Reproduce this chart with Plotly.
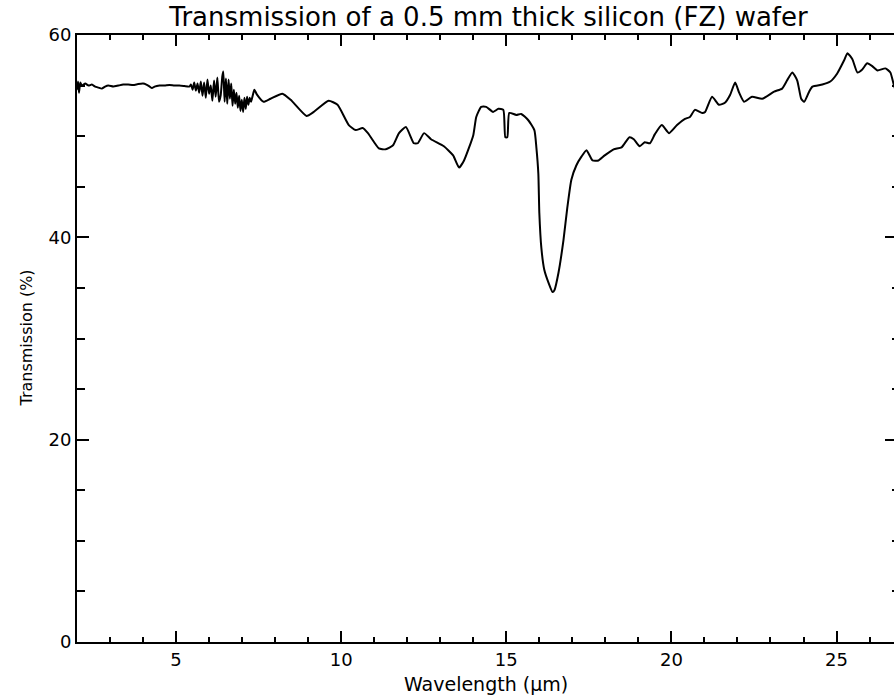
import plotly.graph_objects as go

# Wavelength (micrometres)
wavelength = [
    2.00, 2.03, 2.06, 2.10, 2.15, 2.25, 2.35, 2.45, 2.55, 2.65, 2.75, 2.85, 2.95,
    3.10, 3.25, 3.40, 3.55, 3.70, 3.85, 4.00, 4.10, 4.20, 4.27, 4.35, 4.50, 4.65,
    4.80, 4.95, 5.10, 5.25, 5.40,
    5.45, 5.50, 5.55, 5.60, 5.65, 5.70, 5.75, 5.80, 5.85, 5.90, 5.95, 6.00, 6.05,
    6.10, 6.15, 6.20, 6.25, 6.30, 6.35, 6.40, 6.43, 6.47, 6.51, 6.55, 6.59, 6.63,
    6.67, 6.71, 6.75, 6.79, 6.83, 6.87, 6.91, 6.95, 6.99, 7.03, 7.07, 7.11, 7.15,
    7.19, 7.23, 7.27, 7.32, 7.37, 7.45, 7.65, 7.86, 8.22, 8.47, 8.95, 9.17, 9.62,
    9.89, 10.23, 10.44, 10.65, 10.81, 11.14, 11.35, 11.57, 11.75, 11.96, 12.20,
    12.32, 12.51, 12.72, 13.11, 13.39, 13.57, 13.72, 14.00, 14.09, 14.24, 14.39,
    14.60, 14.76, 14.91, 14.97, 15.03, 15.09, 15.30, 15.45, 15.66, 15.85, 15.91,
    15.97, 16.00, 16.06, 16.15, 16.28, 16.40, 16.46, 16.58, 16.73, 16.85, 16.97,
    17.12, 17.28, 17.43, 17.61, 17.79, 17.98, 18.25, 18.49, 18.73, 18.86, 19.04,
    19.19, 19.35, 19.50, 19.71, 19.93, 20.17, 20.41, 20.56, 20.71, 20.93, 21.02,
    21.23, 21.44, 21.62, 21.78, 21.93, 22.05, 22.20, 22.44, 22.75, 23.11, 23.35,
    23.50, 23.66, 23.81, 23.93, 24.02, 24.17, 24.27, 24.57, 24.81, 25.02, 25.23,
    25.33, 25.48, 25.63, 25.78, 25.93, 26.09, 26.24, 26.48, 26.63, 26.74, 26.85,
]

# Transmission (%)
transmission = [
    54.6, 55.4, 54.3, 55.3, 55.0, 55.2, 55.0, 55.1, 54.9, 54.8, 54.7, 54.9, 55.0,
    54.9, 55.0, 55.1, 55.1, 55.05, 55.15, 55.2, 55.1, 54.9, 54.75, 54.9, 55.0, 55.0,
    55.05, 55.0, 55.0, 54.95, 54.9,
    55.1, 54.6, 55.3, 54.5, 55.2, 54.3, 55.4, 54.0, 55.3, 53.8, 55.6, 54.2, 55.0,
    53.5, 55.5, 53.9, 55.8, 53.4, 54.0, 55.9, 56.4, 53.4, 55.7, 53.2, 55.6, 53.7,
    55.2, 53.0, 54.6, 53.2, 54.3, 52.8, 54.0, 52.5, 53.6, 52.4, 53.8, 52.7, 53.9,
    53.1, 53.8, 53.4, 54.0, 54.6, 54.1, 53.4, 53.7, 54.2, 53.6, 52.0, 52.4, 53.5,
    53.1, 51.1, 50.6, 50.8, 50.3, 48.8, 48.7, 49.1, 50.3, 50.9, 49.3,
    49.3, 50.3, 49.7, 49.0, 48.1, 46.9, 47.6, 50.1, 51.9, 52.9, 52.9,
    52.4, 52.7, 52.6, 49.9, 49.9, 52.3, 52.1, 52.2, 51.6, 50.6, 48.9,
    46.3, 42.4, 39.0, 36.8, 35.5, 34.6, 34.8, 36.5, 39.7, 43.0, 45.7,
    47.1, 48.0, 48.6, 47.6, 47.6, 48.1, 48.7, 48.9, 49.9, 49.7, 49.0,
    49.4, 49.3, 50.2, 51.1, 50.3, 51.1, 51.7, 51.9, 52.6, 52.3, 52.4,
    53.9, 53.1, 53.3, 54.1, 55.3, 54.3, 53.4, 53.9, 53.7, 54.4, 54.7,
    55.5, 56.3, 55.5, 53.7, 53.4, 54.4, 54.9, 55.1, 55.4, 56.2, 57.5,
    58.2, 57.6, 56.3, 56.6, 57.2, 56.9, 56.5, 56.7, 56.3, 55.0, 54.0,
]

x_ticks = [5, 10, 15, 20, 25]
y_ticks = [0, 20, 40, 60]

FONT = "DejaVu Sans"

fig = go.Figure()
fig.add_trace(go.Scatter(x=wavelength, y=transmission, mode="lines",
                         line=dict(color="black", width=2, shape="spline",
                                   smoothing=0.5),
                         showlegend=False, hoverinfo="skip"))
# invisible trace to activate the right-hand tick axis
fig.add_trace(go.Scatter(x=[wavelength[0]], y=[transmission[0]], yaxis="y2",
                         mode="lines", line=dict(width=0), showlegend=False,
                         hoverinfo="skip"))

fig.update_layout(
    width=894, height=700,
    margin=dict(l=77, r=0, t=35, b=58),
    paper_bgcolor="white", plot_bgcolor="white",
    font=dict(family=FONT, color="black", size=18),
    title=dict(text="Transmission of a 0.5 mm thick silicon (FZ) wafer",
               x=0.5037, xref="paper", xanchor="center",
               y=1 - 17 / 700, yref="container", yanchor="middle",
               font=dict(family=FONT, size=26, color="black")),
    xaxis=dict(range=[2, 26.74], tickvals=x_ticks, ticks="inside", ticklen=11,
               tickwidth=2, tickcolor="black", showline=True, linewidth=2,
               linecolor="black", mirror="ticks", showgrid=False, zeroline=False,
               minor=dict(dtick=1, tick0=0, ticks="inside", ticklen=5, tickwidth=2,
                          tickcolor="black", showgrid=False),
               tickfont=dict(size=18)),
    yaxis=dict(range=[0, 60], tickvals=y_ticks, ticks="inside", ticklen=12,
               tickwidth=2, tickcolor="black", showline=True, linewidth=2,
               linecolor="black", mirror=False, showgrid=False, zeroline=False,
               minor=dict(dtick=5, tick0=0, ticks="inside", ticklen=8, tickwidth=2,
                          tickcolor="black", showgrid=False),
               tickfont=dict(size=18)),
    yaxis2=dict(range=[0, 60], overlaying="y", side="right", tickvals=y_ticks,
                ticks="inside", ticklen=9, tickwidth=2, tickcolor="black",
                showline=False, showgrid=False, zeroline=False, showticklabels=False,
                minor=dict(dtick=5, tick0=0, ticks="inside", ticklen=2, tickwidth=2,
                           tickcolor="black", showgrid=False)),
    annotations=[
        dict(text="Wavelength (μm)", xref="paper", yref="paper", x=0.5, y=-0.069,
             xanchor="center", yanchor="middle", showarrow=False,
             font=dict(family=FONT, size=19, color="black")),
        dict(text="Transmission (%)", xref="paper", yref="paper", x=-0.0624, y=0.5,
             xanchor="center", yanchor="middle", textangle=-90, showarrow=False,
             font=dict(family=FONT, size=16, color="black")),
    ],
)

fig.write_html("out.html")
